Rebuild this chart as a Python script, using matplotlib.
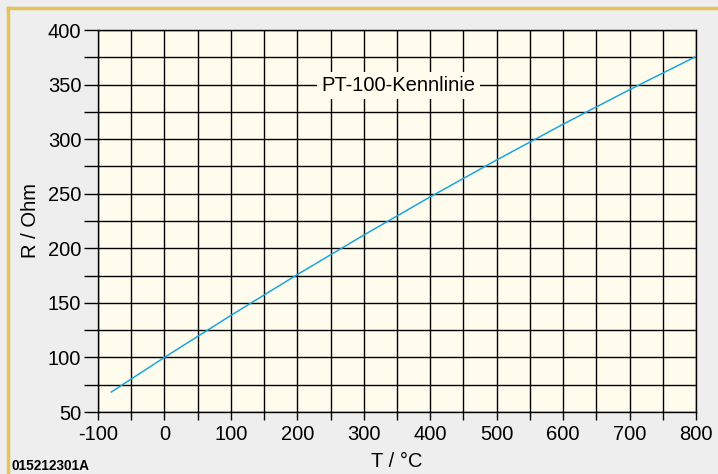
import matplotlib
matplotlib.use('Agg')
import matplotlib.pyplot as plt
from matplotlib.lines import Line2D
from matplotlib.ticker import MultipleLocator

plt.rcParams['font.family'] = ['Liberation Sans', 'DejaVu Sans']
plt.rcParams['axes.unicode_minus'] = False

# PT-100 characteristic, values
temp = [-80, 0, 100, 200, 300, 400, 500, 600, 700, 800]
resist = [68.3, 100.0, 138.5, 175.9, 212.1, 247.1, 280.9, 313.7, 345.3, 375.7]

title = 'PT-100-Kennlinie'
xlabel = 'T / °C'
ylabel = 'R / Ohm'
code = '015212301A'

fig = plt.figure(figsize=(7.18, 4.74), dpi=100)
fig.patch.set_facecolor('#eeeeee')

# orange frame, top and left only
fig.add_artist(Line2D([8 / 718, 1], [1 - 8 / 474] * 2, transform=fig.transFigure,
                      color='#e3c35c', lw=2.5))
fig.add_artist(Line2D([8 / 718] * 2, [0, 1 - 8 / 474], transform=fig.transFigure,
                      color='#e3c35c', lw=2.5))

ax = fig.add_axes([98 / 718, 1 - 412 / 474, 598 / 718, 382 / 474])
ax.set_facecolor('#fffcee')

ax.plot(temp, resist, color='#1aa6e0', lw=1.1, zorder=3)

ax.set_xlim(-100, 800)
ax.set_ylim(50, 400)
ax.xaxis.set_major_locator(MultipleLocator(100))
ax.xaxis.set_minor_locator(MultipleLocator(50))
ax.yaxis.set_major_locator(MultipleLocator(50))
ax.yaxis.set_minor_locator(MultipleLocator(25))
ax.grid(which='both', color='black', lw=1.0, zorder=1)
ax.set_axisbelow(True)

ax.tick_params(axis='x', which='both', length=6, width=1.0, labelsize=14.5, pad=3)
ax.tick_params(axis='y', which='both', length=10, width=1.0, labelsize=14.5, pad=2)
for s in ax.spines.values():
    s.set_linewidth(1.0)

ax.set_xlabel(xlabel, fontsize=14.5, labelpad=6)
ax.set_ylabel(ylabel, fontsize=14.5, labelpad=6)

ax.text(352, 349, title, fontsize=14.5, ha='center', va='center', zorder=4,
        bbox=dict(facecolor='#fffcee', edgecolor='none', pad=3))

fig.text(12 / 718, 1 - 466 / 474, code, fontsize=9.8, fontweight='bold',
         ha='left', va='center')

plt.savefig('out.png', dpi=100, facecolor=fig.get_facecolor())
